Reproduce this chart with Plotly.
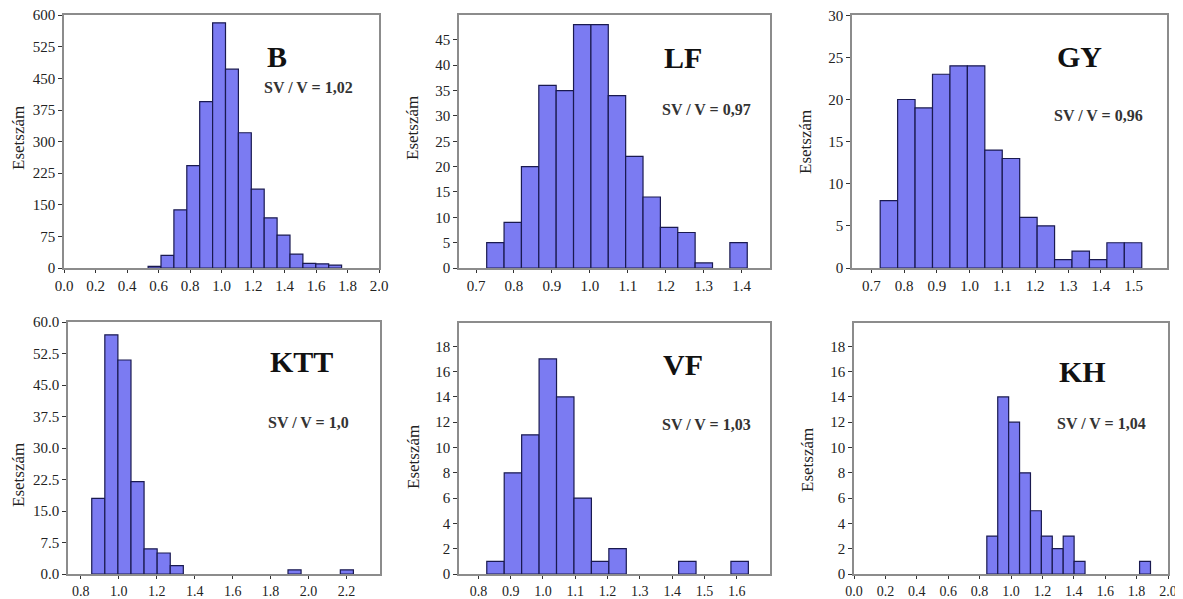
"""
Six histograms of the SV / V ratio (counts per bin) in a 2 x 3 grid,
one panel per group: B, LF, GY, KTT, VF, KH.
"""

import plotly.graph_objects as go

# the page body has an 8px margin, so the figure is drawn 8px in from the corner
OFF = 8
W, H = 1183 - OFF, 599 - OFF

# --- data: bin start, bin width and counts per bin ---
panel_names = ["B", "LF", "GY", "KTT", "VF", "KH"]
panel_ratios = ["SV / V = 1,02", "SV / V = 0,97", "SV / V = 0,96",
                "SV / V = 1,0", "SV / V = 1,03", "SV / V = 1,04"]

b_start, b_width = 0.534, 0.0819
b_counts = [4, 30, 138, 243, 395, 582, 472, 321, 187, 119, 78, 33, 11, 10, 7]

lf_start, lf_width = 0.728, 0.0458
lf_counts = [5, 9, 20, 36, 35, 48, 48, 34, 22, 14, 8, 7, 1, 0, 5]

gy_start, gy_width = 0.727, 0.0532
gy_counts = [8, 20, 19, 23, 24, 24, 14, 13, 6, 5, 1, 2, 1, 3, 3]

ktt_start, ktt_width = 0.858, 0.0689
ktt_counts = [18, 57, 51, 22, 6, 5, 2, 0, 0, 0, 0, 0, 0, 0, 0, 1, 0, 0, 0, 1]

vf_start, vf_width = 0.826, 0.054
vf_counts = [1, 8, 11, 17, 14, 6, 1, 2, 0, 0, 0, 1, 0, 0, 1]

kh_start, kh_width = 0.846, 0.0695
kh_counts = [3, 14, 12, 8, 5, 3, 2, 3, 1, 0, 0, 0, 0, 0, 1]

bins = [(b_start, b_width, b_counts), (lf_start, lf_width, lf_counts),
        (gy_start, gy_width, gy_counts), (ktt_start, ktt_width, ktt_counts),
        (vf_start, vf_width, vf_counts), (kh_start, kh_width, kh_counts)]

# axis setup per panel: x range, first/last x tick and step, y range, y step, y tick max, y format
axes_cfg = [
    dict(xr=[0, 2.0], x0=0.0, x1=2.0, dx=0.2, yr=[0, 600.5], dy=75, ymax=600, yf="d"),
    dict(xr=[0.655, 1.475], x0=0.7, x1=1.4, dx=0.1, yr=[0, 49.9], dy=5, ymax=45, yf="d"),
    dict(xr=[0.641, 1.602], x0=0.7, x1=1.5, dx=0.1, yr=[0, 30.03], dy=5, ymax=30, yf="d"),
    dict(xr=[0.733, 2.376], x0=0.8, x1=2.2, dx=0.2, yr=[0, 60.05], dy=7.5, ymax=60, yf=".1f"),
    dict(xr=[0.74, 1.703], x0=0.8, x1=1.6, dx=0.1, yr=[0, 19.84], dy=2, ymax=18, yf="d"),
    dict(xr=[0, 2.0], x0=0.0, x1=2.0, dx=0.2, yr=[0, 19.84], dy=2, ymax=18, yf="d"),
]

# plot-area boxes in window pixels (left, right, top, bottom)
boxes = [(64, 379, 15, 268), (459, 770, 15, 268), (852, 1167, 15, 268),
         (68, 380, 322, 574), (459, 770, 323, 574), (854, 1168, 323, 574)]
name_pos = [(277, 56), (683, 58), (1079, 57), (301, 361), (683, 364), (1082, 371)]
ratio_pos = [(308, 87), (706, 109), (1098, 115), (308, 422), (706, 424), (1101, 423)]
ytitle_pos = [(18, 138), (413, 128), (806, 142), (18, 475), (413, 457), (807, 460)]

FONT = "Liberation Serif"
BAR_FILL = "#7b7bf2"
BAR_LINE = "#1a1a50"
FRAME = "#8c8c8c"


def px(x):
    return (x - OFF) / W


def py(y):
    return 1 - (y - OFF) / H


def steps(first, last, step):
    out = []
    v = first
    while v <= last + 1e-9:
        out.append(round(v, 4))
        v += step
    return out


fig = go.Figure()
layout = {}
annotations = []

for i, ((start, width, counts), cfg, box) in enumerate(zip(bins, axes_cfg, boxes)):
    n = "" if i == 0 else str(i + 1)
    centers = [start + width * (k + 0.5) for k in range(len(counts))]
    fig.add_trace(go.Bar(
        x=centers,
        y=[c if c > 0 else None for c in counts],
        width=width,
        marker=dict(color=BAR_FILL, line=dict(color=BAR_LINE, width=1.2)),
        xaxis="x" + n, yaxis="y" + n,
        showlegend=False,
    ))
    l, r, t, b = box
    xticks = steps(cfg["x0"], cfg["x1"], cfg["dx"])
    yticks = steps(0.0, cfg["ymax"], cfg["dy"])
    layout["xaxis" + n] = dict(
        domain=[px(l), px(r)], anchor="y" + n, range=cfg["xr"],
        tickmode="array", tickvals=xticks,
        ticktext=[f"{x:.1f}" for x in xticks],
        ticks="outside", ticklen=3, tickcolor="#333",
        showline=True, mirror=True, linecolor=FRAME, linewidth=1.5,
        showgrid=False, zeroline=False, automargin=False,
        ticklabeloverflow="allow",
        tickfont=dict(family=FONT, size=15 if i < 3 else 14, color="#222"),
    )
    yfmt = (lambda y: f"{y:.1f}") if cfg["yf"] == ".1f" else (lambda y: f"{y:.0f}")
    layout["yaxis" + n] = dict(
        domain=[py(b), py(t)], anchor="x" + n, range=cfg["yr"],
        tickmode="array", tickvals=yticks, ticktext=[yfmt(y) for y in yticks],
        ticks="outside", ticklen=4, tickcolor="#333",
        showline=True, mirror=True, linecolor=FRAME, linewidth=1.5,
        showgrid=False, zeroline=False, automargin=False,
        ticklabeloverflow="allow",
        tickfont=dict(family=FONT, size=15, color="#222"),
    )
    nx, ny = name_pos[i]
    annotations.append(dict(
        x=px(nx), y=py(ny), xref="paper", yref="paper",
        xanchor="center", yanchor="middle",
        text=f"<b>{panel_names[i]}</b>", showarrow=False,
        font=dict(family=FONT, size=30, color="#111"),
    ))
    rx, ry = ratio_pos[i]
    annotations.append(dict(
        x=px(rx), y=py(ry), xref="paper", yref="paper",
        xanchor="center", yanchor="middle",
        text=f"<b>{panel_ratios[i]}</b>", showarrow=False,
        font=dict(family=FONT, size=16, color="#333"),
    ))
    tx, ty = ytitle_pos[i]
    annotations.append(dict(
        x=px(tx), y=py(ty), xref="paper", yref="paper",
        xanchor="center", yanchor="middle",
        text="Esetszám", textangle=-90, showarrow=False,
        font=dict(family=FONT, size=17, color="#222"),
    ))

fig.update_layout(
    **layout,
    annotations=annotations,
    width=W, height=H,
    margin=dict(l=0, r=0, t=0, b=0),
    paper_bgcolor="white", plot_bgcolor="white",
    barmode="overlay",
)

fig.write_html("out.html")
